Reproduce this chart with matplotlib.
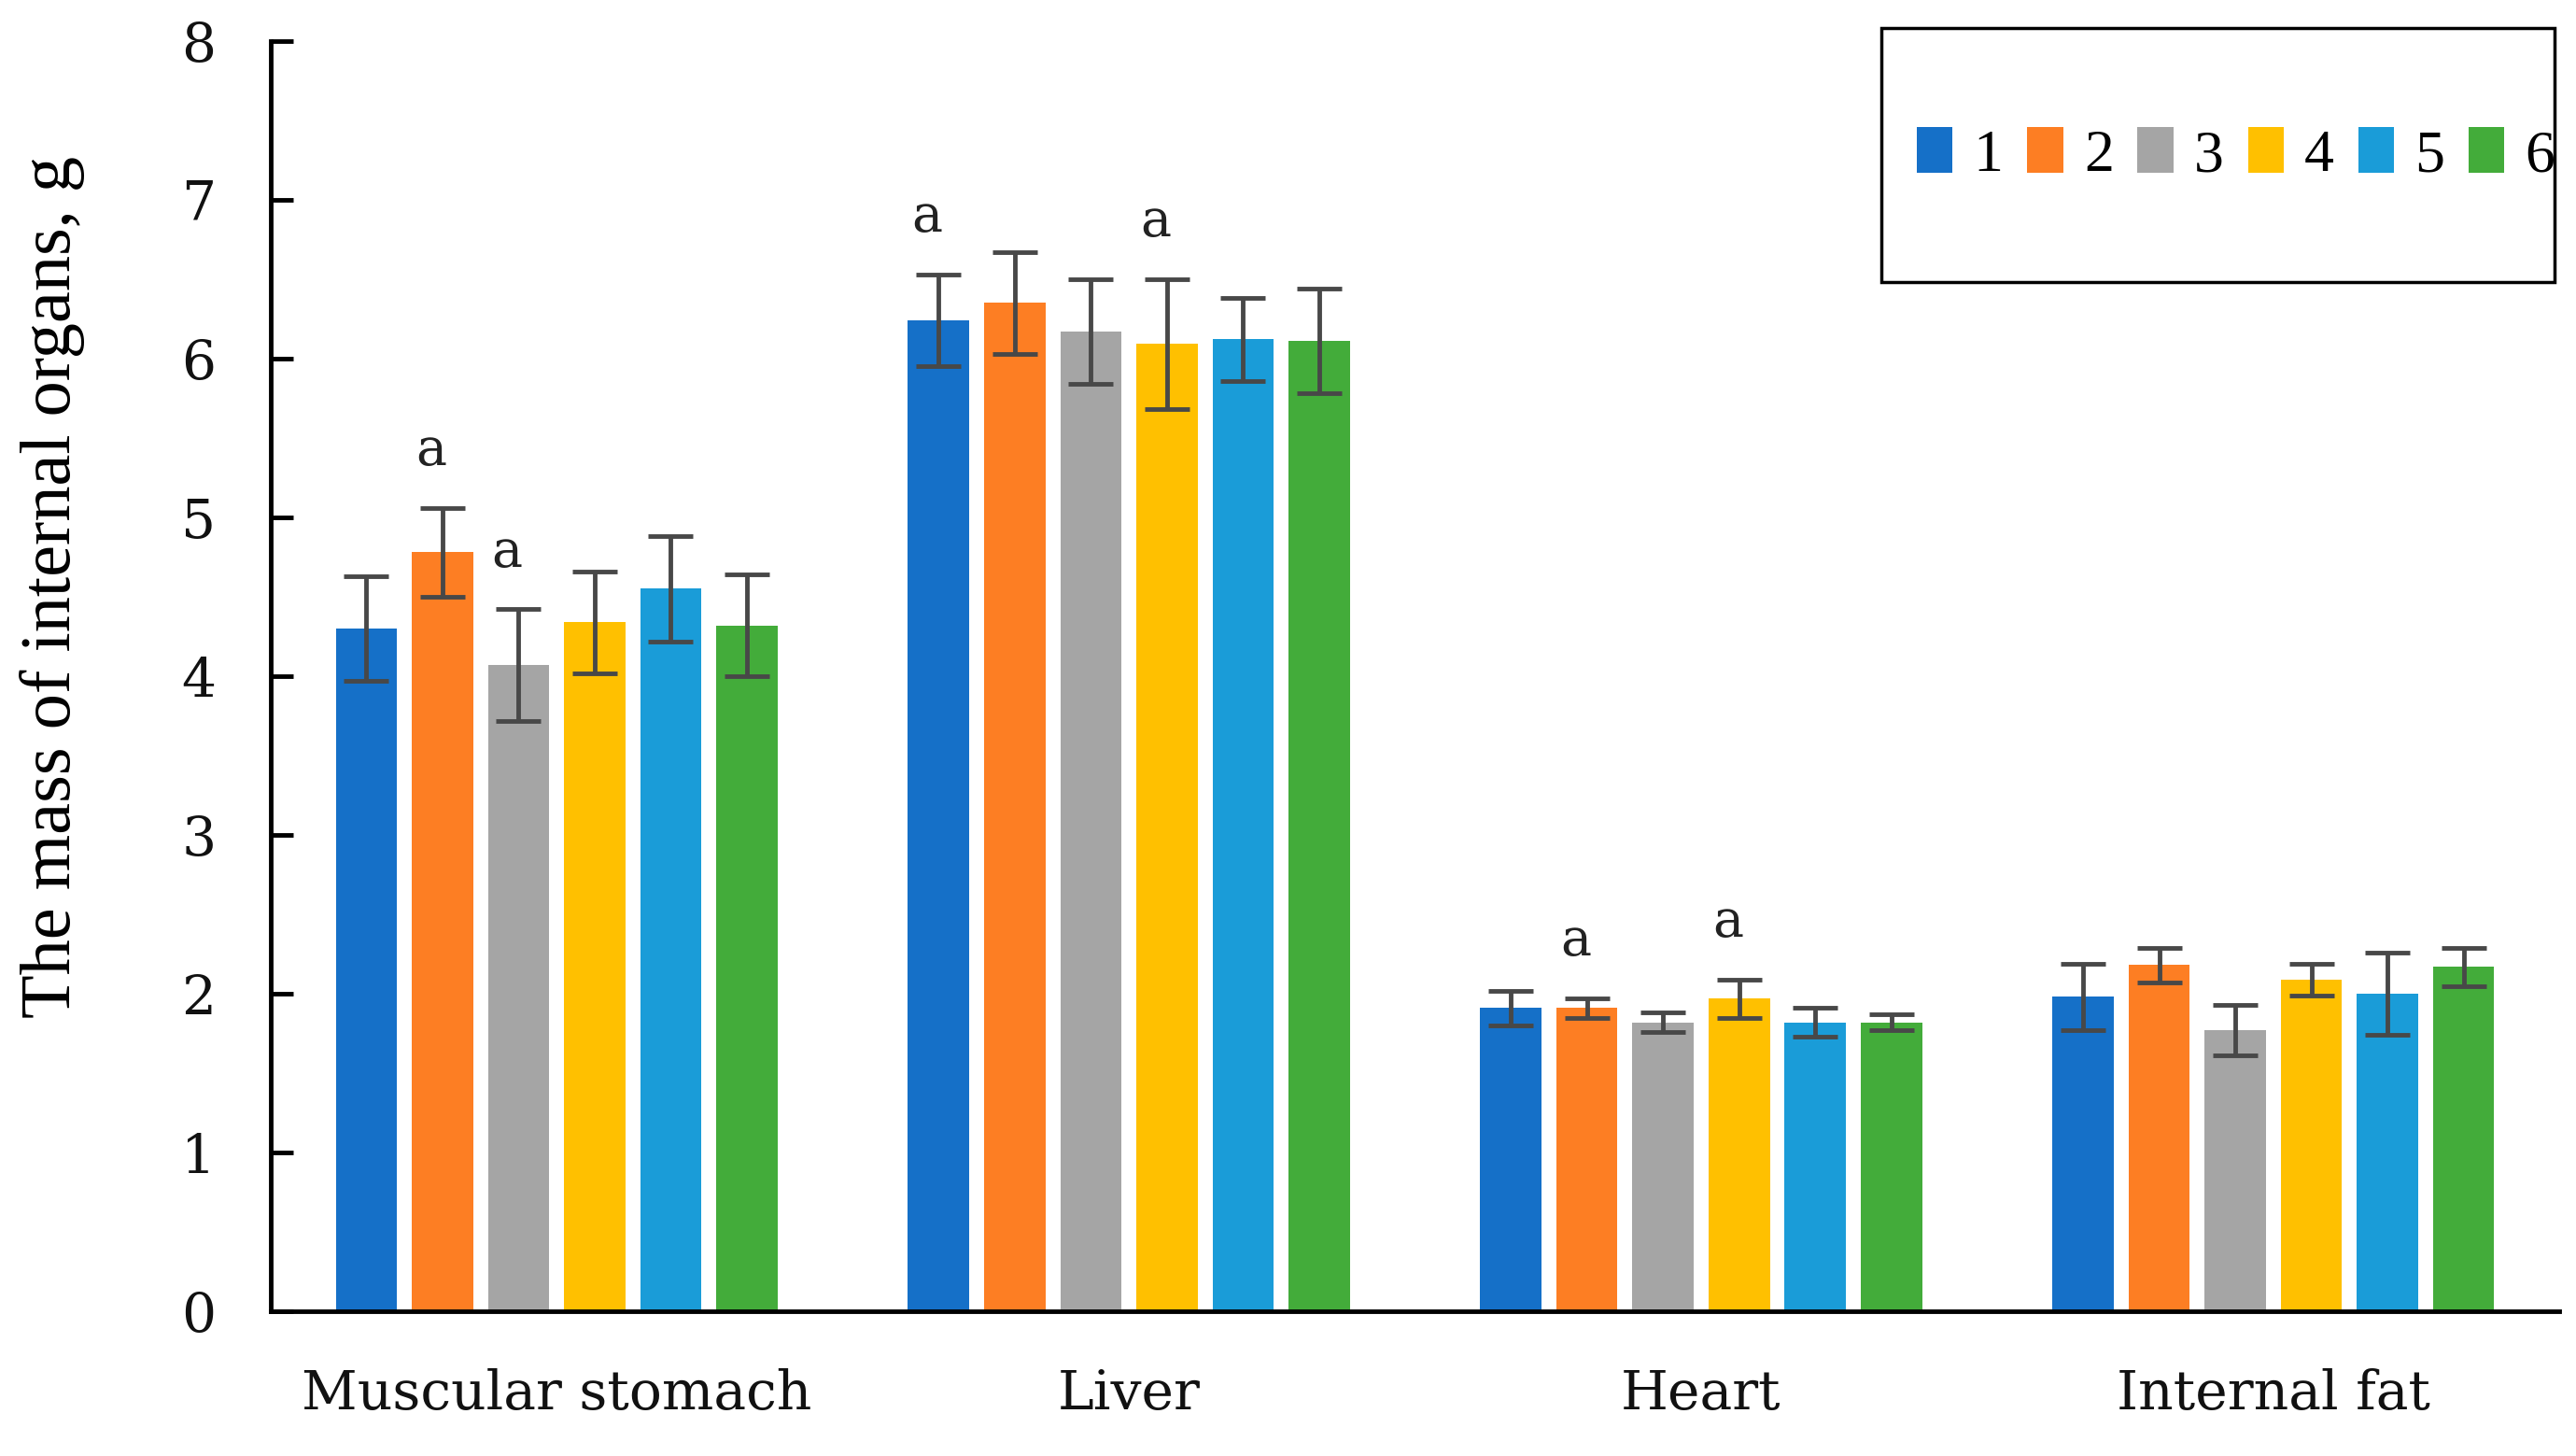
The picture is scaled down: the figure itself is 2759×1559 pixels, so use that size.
#!/usr/bin/env python3
# -*- coding: utf-8 -*-
"""
Bar chart of the mass of internal organs for six groups with error bars
"""
# import libraries
import numpy as np
import matplotlib
matplotlib.use("Agg")
import matplotlib.pyplot as plt
from matplotlib.patches import Rectangle, Patch


# categories and groups
organs = ["Muscular stomach", "Liver", "Heart", "Internal fat"]
groups = ["1", "2", "3", "4", "5", "6"]

# mean values for each group (rows = groups, columns = organs)
group1 = [4.30, 6.24, 1.91, 1.98]
group2 = [4.78, 6.35, 1.91, 2.18]
group3 = [4.07, 6.17, 1.82, 1.77]
group4 = [4.34, 6.09, 1.97, 2.09]
group5 = [4.55, 6.12, 1.82, 2.00]
group6 = [4.32, 6.11, 1.82, 2.17]

# error values for each group
err1 = [0.33, 0.29, 0.11, 0.21]
err2 = [0.28, 0.32, 0.06, 0.11]
err3 = [0.35, 0.33, 0.06, 0.16]
err4 = [0.32, 0.41, 0.12, 0.10]
err5 = [0.33, 0.26, 0.09, 0.26]
err6 = [0.32, 0.33, 0.05, 0.12]

# significance letters: (organ index, group index)
letters = [(0, 1), (0, 2), (1, 0), (1, 3), (2, 1), (2, 3)]

colors = ["#1570C8", "#FD7E23", "#A5A5A5", "#FFC000", "#1A9CD8", "#43AC3A"]

means = [group1, group2, group3, group4, group5, group6]
errors = [err1, err2, err3, err4, err5, err6]

serif = "DejaVu Serif"
times = "Liberation Serif"

fig = plt.figure(figsize=(27.59, 15.59), dpi=100)
ax = fig.add_axes([0.105, 0.0993, 0.8886, 0.8727])

x = np.arange(len(organs))
pitch = 0.133
width = 0.107

# draw the bars with error bars
for i in range(len(groups)):
    pos = x + (i - 2.5) * pitch
    ax.bar(pos, means[i], width=width, color=colors[i], label=groups[i],
           zorder=2)
    ax.errorbar(pos, means[i], yerr=errors[i], fmt="none", ecolor="#484848",
                elinewidth=3.5, capsize=17, capthick=3.5, zorder=3)

# letters above bars
for organ, g in letters:
    px = x[organ] + (g - 2.5) * pitch - 0.02
    py = means[g][organ] + errors[g][organ] + 0.36
    ax.text(px, py, "a", ha="center", va="center", fontsize=40,
            family=serif, color="#222222")

# axes styling
ax.set_xlim(-0.5, 3.5)
ax.set_ylim(0, 8)
ax.set_yticks(range(0, 9))
ax.set_xticks(x)
ax.set_xticklabels(organs)
for side in ["top", "right"]:
    ax.spines[side].set_visible(False)
for side in ["left", "bottom"]:
    ax.spines[side].set_linewidth(3.5)
    ax.spines[side].set_color("black")
ax.tick_params(axis="y", direction="in", length=17, width=3.5, pad=42,
               labelsize=42)
ax.tick_params(axis="x", length=0, pad=44, labelsize=42)
for lab in ax.get_xticklabels() + ax.get_yticklabels():
    lab.set_family(serif)
    lab.set_color("#111111")

# y label
fig.text(0.0204, 0.597, "The mass of internal organs, g", rotation=90,
         ha="center", va="center", fontsize=55, family=times)

# legend box and legend
box = Rectangle((0.7305, 0.806), 0.2613, 0.175, transform=fig.transFigure,
                fill=False, edgecolor="black", linewidth=2.5)
fig.patches.append(box)
handles = [Patch(facecolor=c, edgecolor="none") for c in colors]
fig.legend(handles, groups, loc="center", bbox_to_anchor=(0.868, 0.893),
           ncol=6, frameon=False, prop={"family": times, "size": 46},
           handlelength=0.6, handleheight=0.8, handletextpad=0.35,
           columnspacing=0.4)

# save the plot as png
plt.savefig("out.png", dpi=100)
